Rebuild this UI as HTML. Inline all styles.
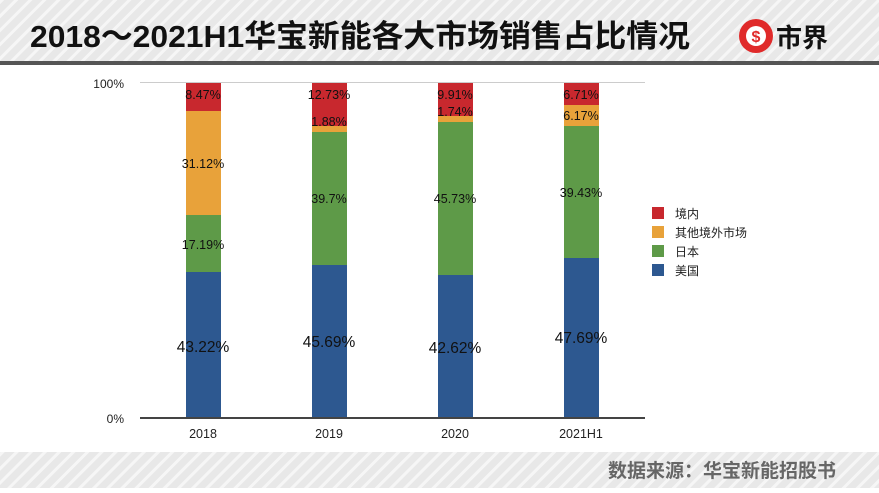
<!DOCTYPE html>
<html><head><meta charset="utf-8"><style>
body{margin:0;width:879px;height:488px;overflow:hidden;background:#fff;font-family:"Liberation Sans","Noto Sans CJK SC",sans-serif}
</style></head><body>
<svg width="879" height="488" xmlns="http://www.w3.org/2000/svg" font-family="Liberation Sans, Noto Sans CJK SC, sans-serif">
<defs>
<pattern id="st" width="10" height="10" patternUnits="userSpaceOnUse" patternTransform="rotate(45)">
<rect width="10" height="10" fill="#e8e8e8"/><rect width="3" height="10" fill="#f6f6f6"/>
</pattern>
</defs>
<rect x="0" y="0" width="879" height="61" fill="url(#st)"/>
<rect x="0" y="61" width="879" height="4" fill="#555"/>
<text x="30" y="47" font-size="31" font-weight="bold" fill="#111" textLength="660" lengthAdjust="spacingAndGlyphs">2018～2021H1华宝新能各大市场销售占比情况</text>
<circle cx="756" cy="36" r="17" fill="#e02a2a"/>
<circle cx="756" cy="36" r="10" fill="#fff"/>
<text x="756" y="42" font-size="16" font-weight="bold" fill="#e02a2a" text-anchor="middle">$</text>
<text x="776" y="47" font-size="26" font-weight="bold" fill="#111">市界</text>
<rect x="0" y="452" width="879" height="36" fill="url(#st)"/>
<text x="836" y="477" font-size="19" font-weight="bold" fill="#666" text-anchor="end">数据来源：华宝新能招股书</text>
<line x1="140" y1="82.5" x2="645" y2="82.5" stroke="#ccc" stroke-width="1"/>
<text x="124" y="88" font-size="12" text-anchor="end" fill="#222">100%</text>
<text x="124" y="423" font-size="12" text-anchor="end" fill="#222">0%</text>
<rect x="186" y="272" width="35" height="146" fill="#2d5890"/>
<rect x="186" y="215" width="35" height="57" fill="#5e9a48"/>
<rect x="186" y="111" width="35" height="104" fill="#e8a23a"/>
<rect x="186" y="83" width="35" height="28" fill="#c8282e"/>
<rect x="312" y="265" width="35" height="153" fill="#2d5890"/>
<rect x="312" y="132" width="35" height="133" fill="#5e9a48"/>
<rect x="312" y="126" width="35" height="6" fill="#e8a23a"/>
<rect x="312" y="83" width="35" height="43" fill="#c8282e"/>
<rect x="438" y="275" width="35" height="143" fill="#2d5890"/>
<rect x="438" y="122" width="35" height="153" fill="#5e9a48"/>
<rect x="438" y="116" width="35" height="6" fill="#e8a23a"/>
<rect x="438" y="83" width="35" height="33" fill="#c8282e"/>
<rect x="564" y="258" width="35" height="160" fill="#2d5890"/>
<rect x="564" y="126" width="35" height="132" fill="#5e9a48"/>
<rect x="564" y="105" width="35" height="21" fill="#e8a23a"/>
<rect x="564" y="83" width="35" height="22" fill="#c8282e"/>
<line x1="140" y1="418" x2="645" y2="418" stroke="#444" stroke-width="2"/>
<g font-size="12.5" fill="#111" text-anchor="middle">
<text x="203" y="99">8.47%</text><text x="203" y="168">31.12%</text><text x="203" y="249">17.19%</text>
<text x="329" y="99">12.73%</text><text x="329" y="126">1.88%</text><text x="329" y="203">39.7%</text>
<text x="455" y="99">9.91%</text><text x="455" y="116">1.74%</text><text x="455" y="203">45.73%</text>
<text x="581" y="99">6.71%</text><text x="581" y="120">6.17%</text><text x="581" y="197">39.43%</text>
</g>
<g font-size="15.5" fill="#111" text-anchor="middle">
<text x="203" y="352">43.22%</text><text x="329" y="347">45.69%</text><text x="455" y="353">42.62%</text><text x="581" y="343">47.69%</text>
</g>
<g font-size="12.5" fill="#222" text-anchor="middle">
<text x="203" y="438">2018</text><text x="329" y="438">2019</text><text x="455" y="438">2020</text><text x="581" y="438">2021H1</text>
</g>
<rect x="652" y="207" width="12" height="12" fill="#c8282e"/>
<rect x="652" y="226" width="12" height="12" fill="#e8a23a"/>
<rect x="652" y="245" width="12" height="12" fill="#5e9a48"/>
<rect x="652" y="264" width="12" height="12" fill="#2d5890"/>
<g font-size="12" fill="#222">
<text x="675" y="218">境内</text><text x="675" y="237">其他境外市场</text><text x="675" y="256">日本</text><text x="675" y="275">美国</text>
</g>
</svg>
</body></html>
